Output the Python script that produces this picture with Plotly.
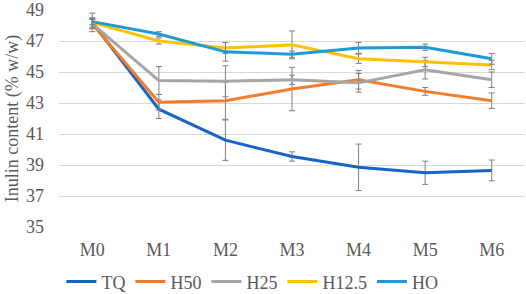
import plotly.graph_objects as go

categories = ["M0", "M1", "M2", "M3", "M4", "M5", "M6"]
series_names = ["TQ", "H50", "H25", "H12.5", "HO"]
tq = [48.2, 42.6, 40.6, 39.55, 38.85, 38.5, 38.65]
tq_err = [0.6, 0.6, 1.3, 0.3, 1.5, 0.75, 0.67]
h50 = [48.1, 43.05, 43.15, 43.9, 44.5, 43.75, 43.15]
h50_err = [0.3, 0.5, 1.2, 1.4, 0.6, 0.25, 0.5]
h25 = [48.1, 44.45, 44.4, 44.5, 44.3, 45.15, 44.5]
h25_err = [0.3, 0.9, 1.0, 0.3, 0.6, 0.6, 0.5]
h125 = [48.2, 47.0, 46.55, 46.75, 45.85, 45.65, 45.45]
h125_err = [0.3, 0.2, 0.35, 0.9, 0.3, 0.3, 0.3]
ho = [48.25, 47.45, 46.3, 46.15, 46.55, 46.6, 45.85]
ho_err = [0.2, 0.15, 0.6, 0.2, 0.35, 0.2, 0.35]
y_ticks = [35, 37, 39, 41, 43, 45, 47, 49]

colors = ["#1565C8", "#F47B2A", "#A5A5A5", "#FFC000", "#1E9AD6"]
data = [tq, h50, h25, h125, ho]
errs = [tq_err, h50_err, h25_err, h125_err, ho_err]

fig = go.Figure()
for name, vals, err, col in zip(series_names, data, errs, colors):
    fig.add_trace(go.Scatter(
        x=categories, y=vals, name=name, mode="lines",
        line=dict(color=col, width=3),
        error_y=dict(type="data", array=err, visible=True,
                     color="#7F7F7F", thickness=1, width=3),
    ))

FAM = "Liberation Serif, Times New Roman, serif"
GREY = "#595959"
def f(size):
    return dict(family=FAM, color=GREY, size=size)

fig.update_layout(
    width=526, height=294,
    margin=dict(l=59, r=1, t=10, b=67, autoexpand=False),
    paper_bgcolor="white", plot_bgcolor="white",
    font=f(17),
    showlegend=True,
    legend=dict(orientation="h", x=0.415, xanchor="center", y=-0.253, yanchor="middle",
                font=f(18), itemwidth=30, tracegroupgap=0,
                traceorder="normal"),
    xaxis=dict(showgrid=False, showline=False, zeroline=False, ticks="",
               range=[-0.5, 6.5], tickfont=f(18), ticklabelstandoff=10,
               automargin=False),
    yaxis=dict(range=[35, 49], tickvals=y_ticks, showgrid=True, gridcolor="#D9D9D9",
               gridwidth=1, zeroline=False, showline=False, ticks="",
               tickfont=f(18), ticklabelstandoff=14,
               ticklabeloverflow="allow", automargin=False,
               title=dict(text="Inulin content (% w/w)", font=f(18), standoff=2)),
)
fig.write_html(
    "out.html",
    config={"displayModeBar": False},
    post_script="document.body.style.margin='0';document.body.style.overflow='hidden';",
)
